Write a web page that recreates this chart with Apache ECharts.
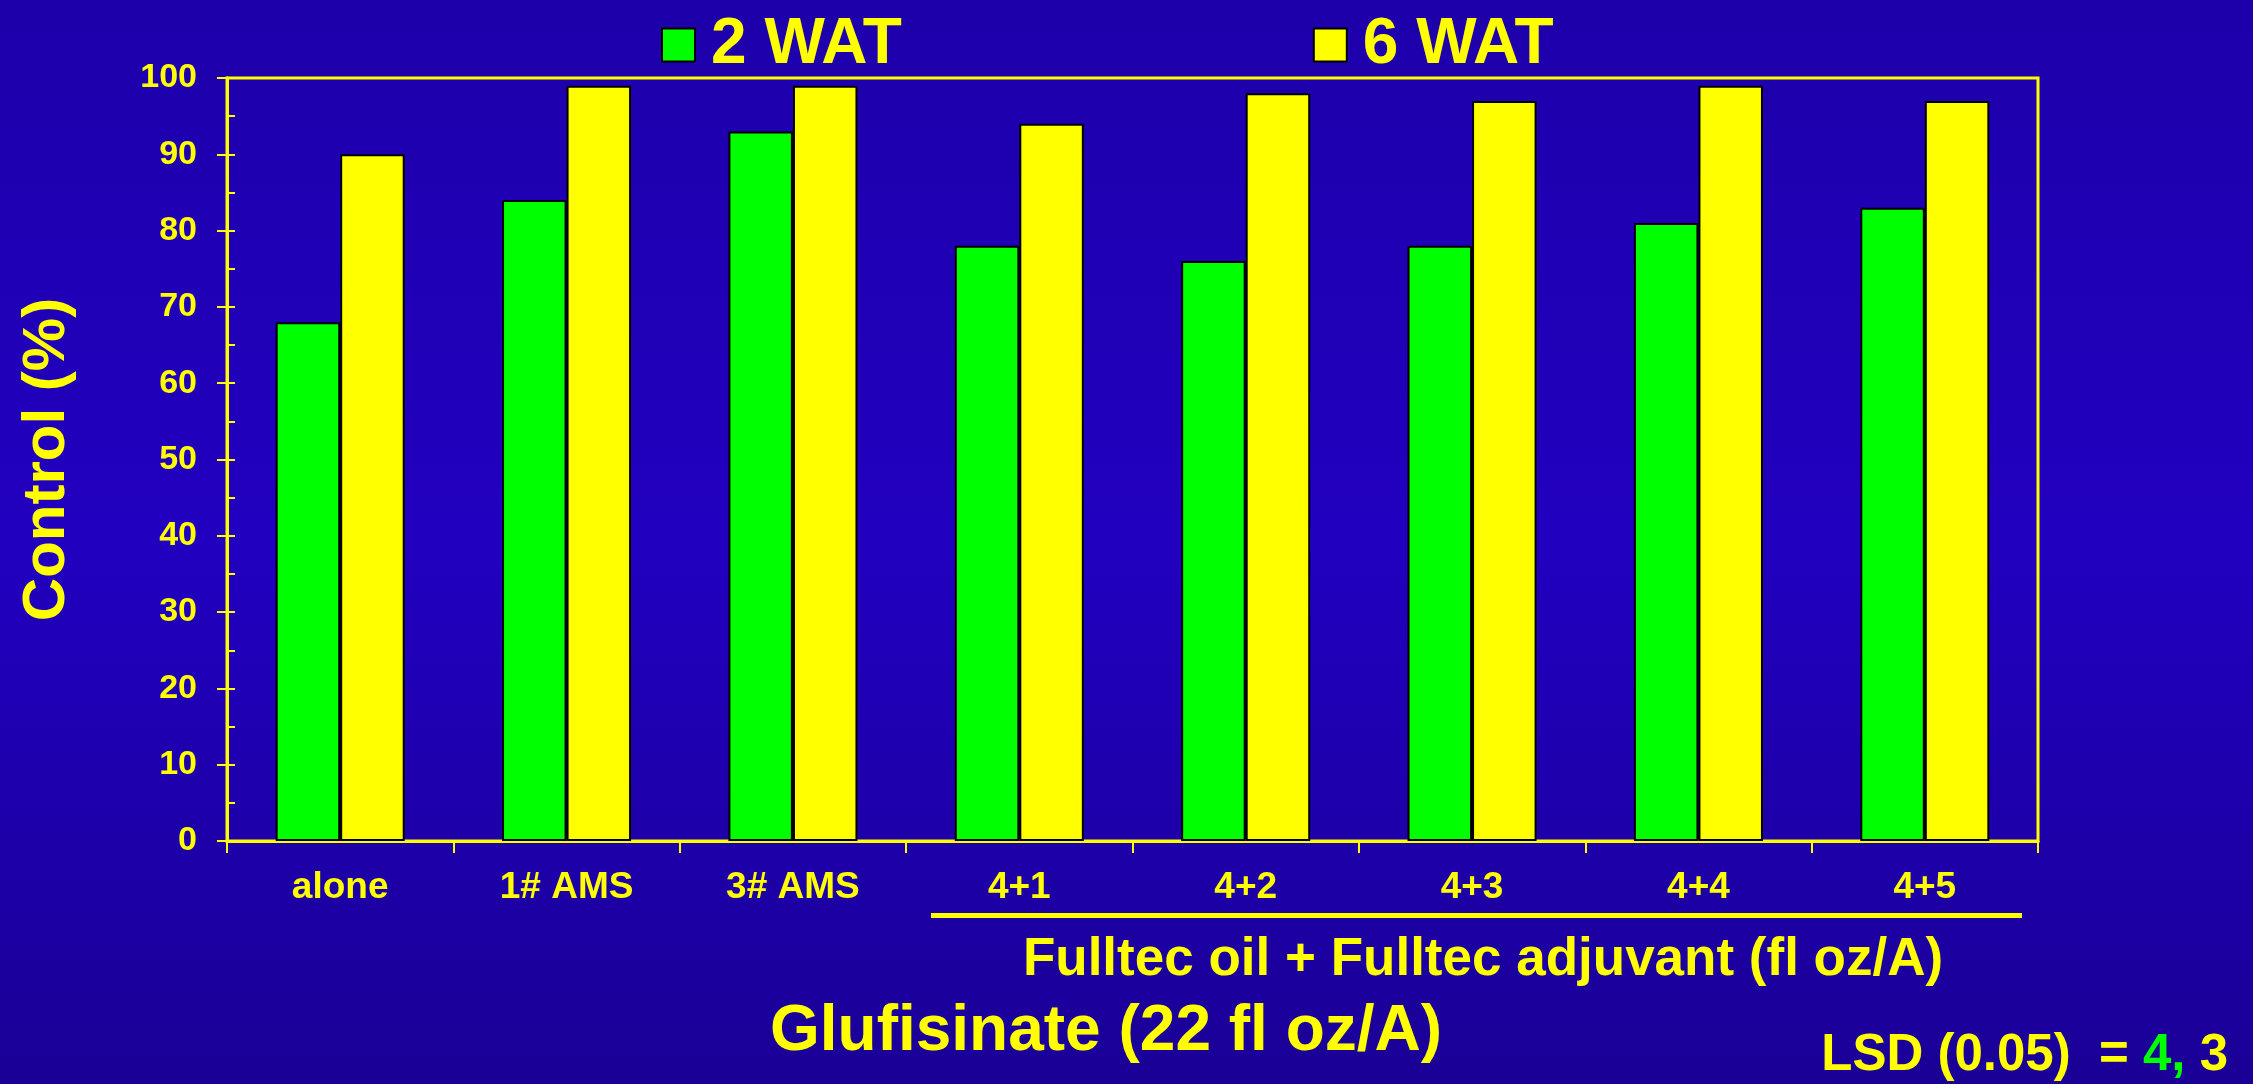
<!DOCTYPE html>
<html>
<head>
<meta charset="utf-8">
<script src="https://cdn.jsdelivr.net/npm/echarts@6/dist/echarts.min.js"></script>
<style>
  html, body { margin: 0; padding: 0; }
  #chart { width: 2253px; height: 1084px; }
</style>
</head>
<body>
<div id="chart"></div>
<script>
const categories = ["alone", "1# AMS", "3# AMS", "4+1", "4+2", "4+3", "4+4", "4+5"];
const wat2 = [68, 84, 93, 78, 76, 78, 81, 83];
const wat6 = [90, 99, 99, 94, 98, 97, 99, 97];
const seriesNames = ["2 WAT", "6 WAT"];

const FONT = '"Liberation Sans", Arial, sans-serif';
const YEL = "#FFFF00";
const GRN = "#00FF00";

const chart = echarts.init(document.getElementById("chart"));

const option = {
  backgroundColor: new echarts.graphic.LinearGradient(0, 0, 0, 1, [
    { offset: 0, color: "#1e00aa" },
    { offset: 0.5, color: "#2200c0" },
    { offset: 1, color: "#1a0096" },
  ]),
  textStyle: { fontFamily: FONT },
  animation: false,
  legend: {
    left: 656,
    top: 8,
    itemWidth: 33,
    itemHeight: 33,
    itemGap: 411,
    icon: "rect",
    textStyle: {
      color: YEL,
      fontSize: 64,
      fontWeight: "bold",
      fontFamily: FONT,
      padding: [0, 0, 0, 11],
    },
    data: seriesNames,
  },
  grid: {
    left: 227,
    right: 2253 - 2038,
    top: 78,
    bottom: 1084 - 841,
    show: true,
    borderColor: YEL,
    borderWidth: 3,
    backgroundColor: "transparent",
  },
  xAxis: {
    type: "category",
    data: categories,
    axisLine: { lineStyle: { color: YEL, width: 3 } },
    axisTick: { show: true, alignWithLabel: false, length: 12, lineStyle: { color: YEL, width: 2 } },
    axisLabel: {
      color: YEL,
      fontSize: 37,
      fontWeight: "bold",
      fontFamily: FONT,
      margin: 28,
    },
  },
  yAxis: [
    {
      type: "value",
      min: 0,
      max: 100,
      interval: 10,
      name: "Control (%)",
      nameLocation: "middle",
      nameGap: 150,
      nameTextStyle: {
        color: YEL,
        fontSize: 60,
        fontWeight: "bold",
        fontFamily: FONT,
      },
      axisLine: { show: true, lineStyle: { color: YEL, width: 3 } },
      axisTick: { show: true, length: 10, lineStyle: { color: YEL, width: 2 } },
      axisLabel: {
        color: YEL,
        fontSize: 34,
        fontWeight: "bold",
        fontFamily: FONT,
        margin: 30,
      },
      splitLine: { show: false },
    },
    {
      // inside ticks every 5
      type: "value",
      position: "left",
      min: 0,
      max: 100,
      interval: 5,
      axisLine: { show: true, lineStyle: { color: YEL, width: 3 } },
      axisTick: { show: true, inside: true, length: 8, lineStyle: { color: YEL, width: 2 } },
      axisLabel: { show: false },
      splitLine: { show: false },
    },
  ],
  series: [
    {
      name: seriesNames[0],
      type: "bar",
      data: wat2,
      barGap: "0%",
      barCategoryGap: "43%",
      itemStyle: { color: GRN, borderColor: "#000", borderWidth: 2 },
    },
    {
      name: seriesNames[1],
      type: "bar",
      data: wat6,
      barGap: "0%",
      barCategoryGap: "43%",
      itemStyle: { color: YEL, borderColor: "#000", borderWidth: 2 },
    },
  ],
  graphic: [
    {
      type: "rect",
      shape: { x: 931, y: 913, width: 1091, height: 5 },
      style: { fill: YEL },
    },
    {
      type: "text",
      x: 1483,
      y: 960,
      style: {
        text: "Fulltec oil + Fulltec adjuvant (fl oz/A)",
        fill: YEL,
        font: "bold 53px " + FONT,
        textAlign: "center",
        textVerticalAlign: "middle",
      },
    },
    {
      type: "text",
      x: 1106,
      y: 1032,
      style: {
        text: "Glufisinate (22 fl oz/A)",
        fill: YEL,
        font: "bold 64px " + FONT,
        textAlign: "center",
        textVerticalAlign: "middle",
      },
    },
    {
      type: "text",
      x: 2228,
      y: 1056,
      style: {
        text: "{y|LSD (0.05)  = }{g|4,}{y| 3}",
        textAlign: "right",
        textVerticalAlign: "middle",
        rich: {
          y: { fill: YEL, font: "bold 51px " + FONT },
          g: { fill: GRN, font: "bold 51px " + FONT },
        },
      },
    },
  ],
};

chart.setOption(option);
</script>
</body>
</html>
